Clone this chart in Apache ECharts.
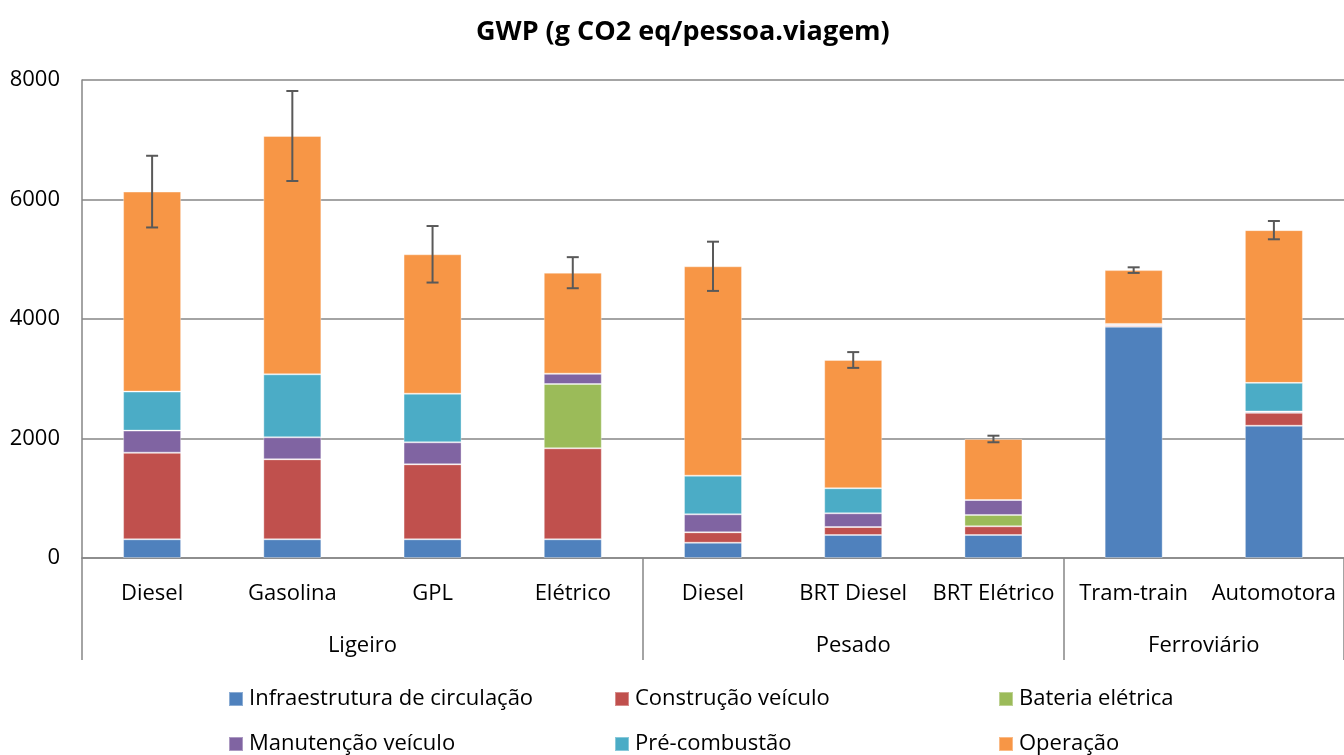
<!DOCTYPE html>
<html>
<head>
<meta charset="utf-8">
<script src="https://cdn.jsdelivr.net/npm/echarts@6/dist/echarts.min.js"></script>
<style>
  html, body { margin: 0; padding: 0; background: #fff; }
  #main { width: 1344px; height: 755px; }
</style>
</head>
<body>
<div id="main"></div>
<script>
    // categorias (nível 1) e grupos (nível 2)
    var categorias = ['Diesel', 'Gasolina', 'GPL', 'Elétrico', 'Diesel', 'BRT Diesel', 'BRT Elétrico', 'Tram-train', 'Automotora'];
    var grupos = ['Ligeiro', 'Pesado', 'Ferroviário'];
    var gruposInicio = [0, 4, 7, 9];      // limites dos grupos (índice de categoria)
    var yTicks = [0, 2000, 4000, 6000, 8000];

    // valores g CO2 eq/pessoa.viagem
    var infraestrutura = [313, 313, 313, 313, 256, 385, 385, 3871, 2214];
    var construcao     = [1450, 1339, 1255, 1523, 174, 134, 145, 25, 218];
    var bateria        = [0, 0, 0, 1076, 0, 0, 190, 0, 0];
    var manutencao     = [369, 368, 368, 173, 301, 229, 251, 22, 20];
    var precombustao   = [653, 1054, 814, 0, 647, 419, 0, 0, 479];
    var operacao       = [3347, 3989, 2333, 1690, 3504, 2147, 1021, 900, 2556];
    var erro           = [600, 753, 473, 260, 412, 132, 55, 47, 153];

    var fonte = 'Open Sans';
    var cinza = '#868686';
    var tamanho = 22;

    var nomes = ['Infraestrutura de circulação', 'Construção veículo', 'Bateria elétrica',
                 'Manutenção veículo', 'Pré-combustão', 'Operação'];
    var cores = ['#4f81bd', '#c0504d', '#9bbb59', '#8064a2', '#4bacc6', '#f79646'];
    var dados = [infraestrutura, construcao, bateria, manutencao, precombustao, operacao];

    // totais para as barras de erro
    var erroDados = [];
    for (var i = 0; i < categorias.length; i++) {
        var total = 0;
        for (var k = 0; k < dados.length; k++) total += dados[k][i];
        erroDados.push([i, total - erro[i], total + erro[i]]);
    }

    var series = [];
    for (var k = 0; k < dados.length; k++) {
        series.push({
            name: nomes[k],
            type: 'bar',
            stack: 'gwp',
            barWidth: 58,
            data: dados[k],
            itemStyle: { color: cores[k], borderColor: 'rgba(255,255,255,0.35)', borderWidth: 1 }
        });
    }
    series.push({
        name: 'erro',
        type: 'custom',
        xAxisIndex: 0,
        yAxisIndex: 0,
        z: 10,
        data: erroDados,
        renderItem: function (params, api) {
            var x = api.value(0);
            var lo = api.coord([x, api.value(1)]);
            var hi = api.coord([x, api.value(2)]);
            var w = 6;
            var estilo = { stroke: '#595959', lineWidth: 2 };
            return {
                type: 'group',
                children: [
                    { type: 'line', shape: { x1: hi[0], y1: hi[1], x2: lo[0], y2: lo[1] }, style: estilo },
                    { type: 'line', shape: { x1: hi[0] - w, y1: hi[1], x2: hi[0] + w, y2: hi[1] }, style: estilo },
                    { type: 'line', shape: { x1: lo[0] - w, y1: lo[1], x2: lo[0] + w, y2: lo[1] }, style: estilo }
                ]
            };
        }
    });

    var legendaBase = {
        orient: 'vertical',
        top: 688,
        padding: 0,
        icon: 'rect',
        itemWidth: 14,
        itemHeight: 14,
        itemGap: 23,
        textStyle: { fontFamily: fonte, fontSize: tamanho, color: '#000', padding: [0, 0, 0, 1] }
    };

    var myChart = echarts.init(document.getElementById('main'));
    myChart.setOption({
        animation: false,
        title: {
            text: 'GWP (g CO2 eq/pessoa.viagem)',
            left: 471,
            top: 14,
            textStyle: { fontFamily: fonte, fontSize: 27, fontWeight: 'bold', color: '#000' }
        },
        legend: [
            Object.assign({}, legendaBase, { left: 228, data: [nomes[0], nomes[3]] }),
            Object.assign({}, legendaBase, { left: 614, data: [nomes[1], nomes[4]] }),
            Object.assign({}, legendaBase, { left: 998, data: [nomes[2], nomes[5]] })
        ],
        grid: { left: 82, right: 0, top: 80, bottom: 197, containLabel: false },
        xAxis: [
            {
                type: 'category',
                data: categorias,
                axisLine: { lineStyle: { color: cinza, width: 1.5 } },
                axisTick: { show: false },
                axisLabel: { fontFamily: fonte, fontSize: tamanho, color: '#000', margin: 25, interval: 0 }
            },
            {
                type: 'value',
                min: 0,
                max: categorias.length,
                position: 'bottom',
                axisLine: { show: false },
                splitLine: { show: false },
                axisTick: { show: true, customValues: gruposInicio, length: 102, lineStyle: { color: cinza, width: 1.5 } },
                axisLabel: {
                    customValues: [2, 5.5, 8],
                    margin: 77,
                    fontFamily: fonte, fontSize: tamanho, color: '#000',
                    formatter: function (v) {
                        if (v === 2) return grupos[0];
                        if (v === 5.5) return grupos[1];
                        return grupos[2];
                    }
                }
            }
        ],
        yAxis: {
            type: 'value',
            min: yTicks[0],
            max: yTicks[yTicks.length - 1],
            interval: 2000,
            axisLine: { show: true, lineStyle: { color: cinza, width: 1.5 } },
            axisTick: { show: false },
            splitLine: { lineStyle: { color: cinza, width: 1.5 } },
            axisLabel: {
                fontFamily: fonte, fontSize: tamanho, color: '#000', margin: 22,
                formatter: function (v) { return String(v); }
            }
        },
        series: series
    });
</script>
</body>
</html>
